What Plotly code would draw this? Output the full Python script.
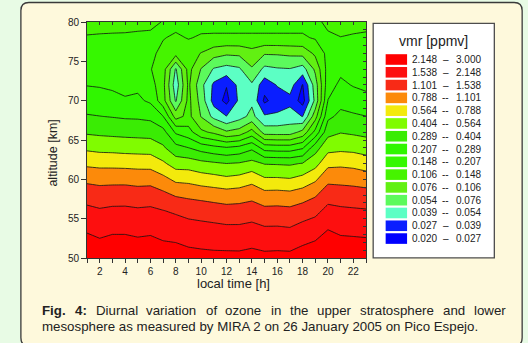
import numpy as np
import plotly.graph_objects as go

# ---------------- data (vmr in ppmv) ----------------
hours = list(range(1, 24))                      # local time [h]
altitudes = [50, 52, 54, 56, 58, 60, 62, 64, 66, 68, 70, 72, 74, 76, 78, 80]  # km

vmr_50 = [2.853, 2.660, 2.815, 2.806, 2.705, 2.759, 2.590, 2.564, 2.422, 2.382, 2.351, 2.358,
          2.343, 2.422, 2.351, 2.374, 2.358, 2.538, 2.714, 2.950, 2.759, 2.741, 2.714]
vmr_52 = [2.382, 2.243, 2.351, 2.351, 2.273, 2.319, 2.184, 2.141, 2.036, 1.989, 1.956, 1.930,
          1.930, 1.996, 1.904, 1.917, 1.898, 2.057, 2.191, 2.513, 2.319, 2.296, 2.266]
vmr_54 = [1.996, 1.892, 1.963, 1.963, 1.911, 1.943, 1.842, 1.793, 1.706, 1.666, 1.628, 1.585,
          1.585, 1.644, 1.543, 1.548, 1.518, 1.666, 1.775, 2.064, 1.943, 1.917, 1.892]
vmr_56 = [1.666, 1.590, 1.639, 1.644, 1.606, 1.633, 1.553, 1.468, 1.377, 1.332, 1.288, 1.242,
          1.250, 1.301, 1.201, 1.209, 1.189, 1.288, 1.405, 1.694, 1.633, 1.606, 1.580]
vmr_58 = [1.337, 1.284, 1.310, 1.315, 1.280, 1.301, 1.197, 1.069, 1.027, 0.993, 0.957, 0.926,
          0.948, 0.996, 0.889, 0.898, 0.877, 0.944, 1.062, 1.341, 1.306, 1.280, 1.254]
vmr_60 = [1.023, 0.996, 1.000, 1.000, 0.976, 0.980, 0.872, 0.733, 0.718, 0.669, 0.641, 0.608,
          0.633, 0.709, 0.592, 0.592, 0.578, 0.633, 0.748, 1.010, 1.000, 0.983, 0.944]
vmr_62 = [0.738, 0.720, 0.718, 0.711, 0.702, 0.697, 0.598, 0.486, 0.483, 0.448, 0.426, 0.406,
          0.417, 0.450, 0.398, 0.394, 0.388, 0.412, 0.501, 0.723, 0.738, 0.718, 0.672]
vmr_64 = [0.530, 0.512, 0.507, 0.496, 0.491, 0.486, 0.425, 0.325, 0.291, 0.253, 0.229, 0.214,
          0.229, 0.271, 0.181, 0.175, 0.175, 0.200, 0.354, 0.504, 0.521, 0.512, 0.487]
vmr_66 = [0.387, 0.378, 0.371, 0.366, 0.362, 0.357, 0.325, 0.197, 0.170, 0.114, 0.0994, 0.0797,
          0.0870, 0.121, 0.0661, 0.0655, 0.0655, 0.0841, 0.164, 0.364, 0.398, 0.385, 0.371]
vmr_68 = [0.297, 0.291, 0.285, 0.278, 0.276, 0.267, 0.209, 0.0927, 0.1175, 0.0748, 0.0493, 0.0393,
          0.0477, 0.0602, 0.0407, 0.0414, 0.0453, 0.0386, 0.0930, 0.268, 0.315, 0.303, 0.291]
vmr_70 = [0.245, 0.238, 0.227, 0.213, 0.219, 0.197, 0.121, 0.0527, 0.1175, 0.0666, 0.0341, 0.0253,
          0.0417, 0.0510, 0.0261, 0.0327, 0.0353, 0.0244, 0.0596, 0.209, 0.260, 0.245, 0.225]
vmr_72 = [0.205, 0.202, 0.197, 0.193, 0.195, 0.172, 0.1175, 0.0446, 0.1136, 0.0602, 0.0365, 0.0285,
          0.0431, 0.0518, 0.0319, 0.0398, 0.0453, 0.0275, 0.0644, 0.181, 0.222, 0.203, 0.196]
vmr_74 = [0.186, 0.183, 0.181, 0.178, 0.180, 0.151, 0.1235, 0.0527, 0.1194, 0.0748, 0.0527, 0.0481,
          0.0518, 0.0736, 0.0498, 0.0527, 0.0536, 0.0472, 0.0813, 0.170, 0.192, 0.184, 0.180]
vmr_76 = [0.167, 0.167, 0.166, 0.165, 0.166, 0.159, 0.1365, 0.119, 0.1256, 0.1045, 0.0870, 0.0800,
          0.0813, 0.0930, 0.0782, 0.0787, 0.0813, 0.0838, 0.1136, 0.164, 0.168, 0.167, 0.166]
vmr_78 = [0.151, 0.152, 0.152, 0.152, 0.153, 0.153, 0.151, 0.141, 0.151, 0.1435, 0.1426, 0.1426,
          0.1426, 0.1426, 0.1426, 0.1426, 0.1426, 0.1426, 0.153, 0.156, 0.1494, 0.152, 0.153]
vmr_80 = [0.137, 0.138, 0.140, 0.141, 0.142, 0.1435, 0.1494, 0.164, 0.164, 0.164, 0.164, 0.164,
          0.164, 0.164, 0.164, 0.164, 0.164, 0.164, 0.159, 0.139, 0.134, 0.138, 0.141]

# contour level labels (lowest to highest) and band colours
level_labels = ["0.020", "0.027", "0.039", "0.054", "0.076", "0.106", "0.148", "0.207",
                "0.289", "0.404", "0.564", "0.788", "1.101", "1.538", "2.148", "3.000"]
band_colors = ["#0000ff", "#0a1eff", "#5cffc4", "#5cfa5c", "#62f012", "#46f400", "#36f800",
               "#30f600", "#3aec04", "#80fc00", "#f3ea0c", "#fc8a0a", "#f82a16", "#fd0f0f", "#ff0000"]
band_dash = ["–", "–", "--", "--", "--", "--", "--", "--", "--", "--", "--", "--", "–", "–", "–"]

# ---------------- figure ----------------
rows = [vmr_50, vmr_52, vmr_54, vmr_56, vmr_58, vmr_60, vmr_62, vmr_64,
        vmr_66, vmr_68, vmr_70, vmr_72, vmr_74, vmr_76, vmr_78, vmr_80]
z = np.log10(np.array(rows))

nb = len(band_colors)
c_start = np.log10(float(level_labels[0]))
c_end = np.log10(float(level_labels[-1]))
c_size = (c_end - c_start) / nb

cscale = [[0.0, band_colors[0]]]
for k in range(nb):
    cscale.append([(k + 1) / (nb + 1), band_colors[k]])
cscale.append([1.0, band_colors[-1]])

FONT = "Liberation Sans, Arial, Helvetica, sans-serif"
TXT = "#222222"

fig = go.Figure()
fig.add_trace(go.Contour(
    x=hours, y=altitudes, z=z,
    autocontour=False,
    contours=dict(start=c_start, end=c_end, size=c_size, coloring="fill", showlines=True),
    colorscale=cscale, showscale=False,
    line=dict(color="#111111", width=0.8, smoothing=0),
    hoverinfo="skip",
))
# invisible trace to host the mirrored (inward tick) axes
fig.add_trace(go.Scatter(x=[hours[0]], y=[altitudes[0]], xaxis="x2", yaxis="y2",
                         mode="markers", marker=dict(opacity=0), hoverinfo="skip",
                         showlegend=False))

# pixel geometry of the plot area
PL, PR, PT, PB = 86.5, 366.3, 22.2, 258.2
W, H = 528, 343


def px(x):
    return (x - PL) / (PR - PL)


def py(y):
    return (PB - y) / (PB - PT)


shapes = []
# rounded cream panel
x0, x1, y0, y1, r = 20.2, 522.9, 2.7, 346.0, 8.0
pts = [("M", x0 + r, y0), ("L", x1 - r, y0), ("Q", x1, y0, x1, y0 + r), ("L", x1, y1 - r),
       ("Q", x1, y1, x1 - r, y1), ("L", x0 + r, y1), ("Q", x0, y1, x0, y1 - r),
       ("L", x0, y0 + r), ("Q", x0, y0, x0 + r, y0)]
path = ""
for p in pts:
    cmd = p[0]
    coords = p[1:]
    s = []
    for i in range(0, len(coords), 2):
        s.append(f"{px(coords[i]):.5f},{py(coords[i + 1]):.5f}")
    path += cmd + " ".join(s) + " "
path += "Z"
shapes.append(dict(type="path", path=path, xref="paper", yref="paper", layer="below",
                   fillcolor="#fef9dc", line=dict(color="#3a3a3a", width=1.3)))

# legend box
LX0, LX1, LY0, LY1 = 373.5, 495.0, 23.6, 258.0
shapes.append(dict(type="rect", xref="paper", yref="paper", x0=px(LX0), x1=px(LX1),
                   y0=py(LY1), y1=py(LY0), fillcolor="white",
                   line=dict(color="#4d4d4d", width=1.3)))

annotations = []
annotations.append(dict(text="vmr [ppmv]", x=px(434.3), y=py(40.8), xref="paper", yref="paper",
                        xanchor="center", yanchor="middle", showarrow=False,
                        font=dict(family=FONT, size=14, color=TXT)))

row0, pitch, hh = 59.7, 12.79, 5.3
for i in range(nb):
    k = nb - 1 - i                      # top row is the highest band
    yc = row0 + i * pitch
    shapes.append(dict(type="rect", xref="paper", yref="paper", x0=px(386.0), x1=px(407.5),
                       y0=py(yc + hh), y1=py(yc - hh), fillcolor=band_colors[k],
                       line=dict(width=0)))
    annotations.append(dict(text=level_labels[k], x=px(410.7), y=py(yc), xref="paper",
                            yref="paper", xanchor="left", yanchor="middle", showarrow=False,
                            font=dict(family=FONT, size=10, color=TXT)))
    annotations.append(dict(text=band_dash[k], x=px(446.3), y=py(yc), xref="paper",
                            yref="paper", xanchor="center", yanchor="middle", showarrow=False,
                            font=dict(family=FONT, size=10, color=TXT)))
    annotations.append(dict(text=level_labels[k + 1], x=px(455.0), y=py(yc), xref="paper",
                            yref="paper", xanchor="left", yanchor="middle", showarrow=False,
                            font=dict(family=FONT, size=10, color=TXT)))

# axis titles
annotations.append(dict(text="local time [h]", x=px(233.3), y=py(283.5), xref="paper",
                        yref="paper", xanchor="center", yanchor="middle", showarrow=False,
                        font=dict(family=FONT, size=13, color=TXT)))
annotations.append(dict(text="altitude [km]", x=px(52.2), y=py(153.0), xref="paper",
                        yref="paper", xanchor="center", yanchor="middle", showarrow=False,
                        textangle=-90, font=dict(family=FONT, size=12.5, color=TXT)))

# caption (line 1 justified word by word)
CAP = 13.3
reg_w = {" ": 278, "D": 722, "i": 222, "u": 556, "r": 333, "n": 556, "a": 556, "l": 222,
         "v": 500, "t": 278, "o": 556, "f": 278, "z": 500, "e": 556, "h": 556, "p": 556,
         "s": 500, "w": 722, "d": 556}
bold_w = {"F": 611, "i": 278, "g": 611, ".": 278, "4": 556, ":": 333}
words = [("Fig.", True), ("4:", True), ("Diurnal", False), ("variation", False), ("of", False),
         ("ozone", False), ("in", False), ("the", False), ("upper", False),
         ("stratosphere", False), ("and", False), ("lower", False)]
widths = []
for w, b in words:
    tab = bold_w if b else reg_w
    widths.append(sum(tab.get(c, 556) for c in w) * CAP / 1000.0)
cx0, cx1 = 39.7, 504.0
gap = (cx1 - cx0 - sum(widths)) / (len(words) - 1)
xc = cx0
for (w, b), wd in zip(words, widths):
    annotations.append(dict(text=f"<b>{w}</b>" if b else w, x=px(xc), y=py(310.4),
                            xref="paper", yref="paper", xanchor="left", yanchor="middle",
                            showarrow=False, font=dict(family=FONT, size=CAP, color=TXT)))
    xc += wd + gap
annotations.append(dict(text="mesosphere as measured by MIRA 2 on 26 January 2005 on Pico Espejo.",
                        x=px(cx0), y=py(326.2), xref="paper", yref="paper", xanchor="left",
                        yanchor="middle", showarrow=False,
                        font=dict(family=FONT, size=CAP, color=TXT)))

axis_common = dict(showgrid=False, zeroline=False)
fig.update_layout(
    width=W, height=H,
    margin=dict(l=PL, r=W - PR, t=PT, b=H - PB, pad=0),
    paper_bgcolor="#e8fbe5", plot_bgcolor="#fef9dc",
    showlegend=False,
    xaxis=dict(range=[1, 23], tick0=0, dtick=2, ticks="outside", ticklen=4, tickwidth=1,
               tickcolor="#333", showline=True, linecolor="#333", linewidth=1, mirror=True,
               tickfont=dict(family=FONT, size=10, color=TXT),
               minor=dict(dtick=1, tick0=0, ticks="outside", ticklen=4, tickcolor="#333",
                          showgrid=False), **axis_common),
    yaxis=dict(range=[50, 80], tick0=50, dtick=5, ticks="outside", ticklen=5, tickwidth=1,
               tickcolor="#333", showline=True, linecolor="#333", linewidth=1, mirror=True,
               tickfont=dict(family=FONT, size=10, color=TXT), **axis_common),
    xaxis2=dict(overlaying="x", side="top", range=[1, 23], tick0=1, dtick=1, ticks="inside",
                ticklen=3, tickcolor="#333", showticklabels=False, showline=False,
                **axis_common),
    yaxis2=dict(overlaying="y", side="right", range=[50, 80], tick0=50, dtick=1,
                ticks="inside", ticklen=3, tickcolor="#333", showticklabels=False,
                showline=False, **axis_common),
    shapes=shapes, annotations=annotations,
)

fig.write_html("out.html", config={"displayModeBar": False, "staticPlot": True},
               post_script="document.body.style.margin='0';document.body.style.padding='0';"
                           "document.body.style.background='#e8fbe5';")
